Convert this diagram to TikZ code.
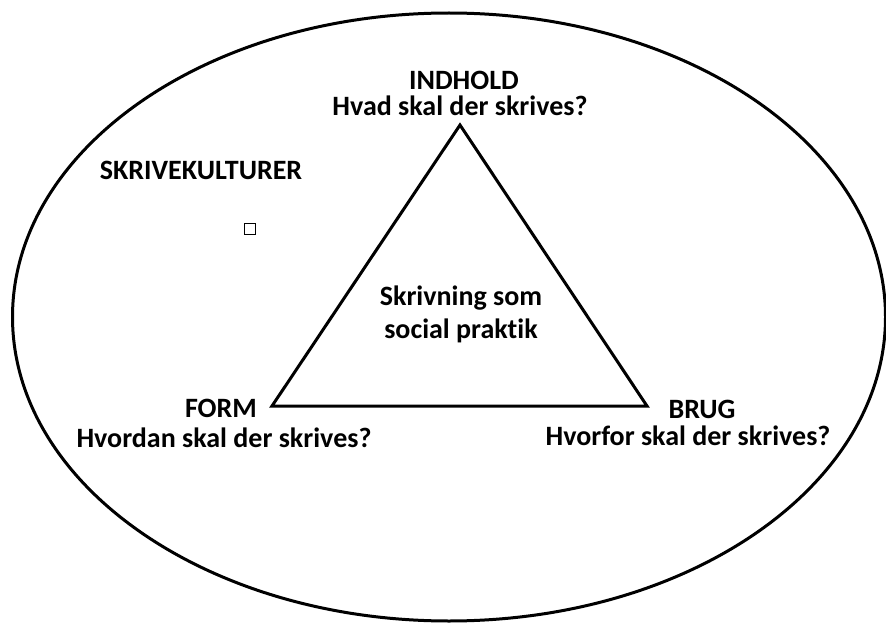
\documentclass[tikz,border=0pt]{standalone}
\usepackage{fontspec}
\setmainfont[Ligatures=NoCommon]{Carlito}
\usetikzlibrary{shapes.geometric}
\begin{document}
\begin{tikzpicture}[x=1pt,y=-1pt,
  lbl/.style={font=\bfseries\fontsize{28}{33}\selectfont, inner sep=0pt, align=center},
  shapeline/.style={line width=3pt, line join=miter}]
\useasboundingbox (0,0) rectangle (886,623);
\node[draw, shapeline, ellipse, minimum width=873, minimum height=608, inner sep=0pt] (ell) at (449,317) {};
\coordinate (top) at (460,125);
\coordinate (left) at (272,406);
\coordinate (right) at (647,406);
\draw[shapeline] (top) -- (left) -- (right) -- cycle;
\node[lbl] (indhold) at (464,80) {INDHOLD};
\node[lbl] (indq) at (460,106) {Hvad skal der skrives?};
\node[lbl] (kult) at (201,170) {SKRIVEKULTURER};
\node[draw, line width=1.3pt, minimum size=11pt, inner sep=0pt] (sq) at (250,229) {};
\node[lbl, align=center] (center) at (461,314) {Skrivning som\\social praktik};
\node[lbl] (form) at (221,408) {FORM};
\node[lbl] (formq) at (224,438) {Hvordan skal der skrives?};
\node[lbl] (brug) at (702,409) {BRUG};
\node[lbl] (brugq) at (688,436) {Hvorfor skal der skrives?};
\end{tikzpicture}
\end{document}
